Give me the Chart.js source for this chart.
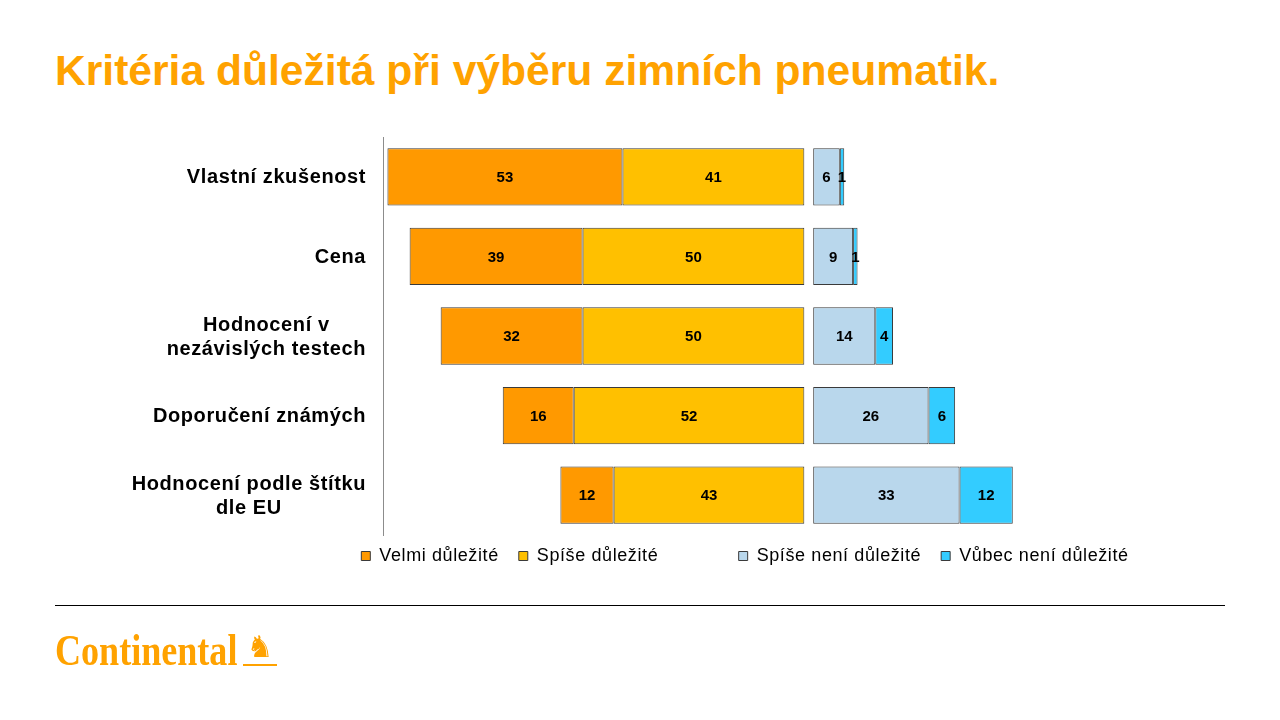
<!DOCTYPE html>
<html>
<head>
<meta charset="utf-8">
<script src="https://cdn.jsdelivr.net/npm/chart.js@4.4.0/dist/chart.umd.min.js"></script>
<style>
  body { margin: 0; background: #fff; font-family: "Liberation Sans", Arial, sans-serif; }
  .page { position: relative; width: 1280px; height: 720px; overflow: hidden; }
  .title { position: absolute; left: 55px; top: 49px; font-size: 42.6px; line-height: 1; font-weight: bold; color: #FFA200; white-space: nowrap; }
  .chart_box { position: absolute; left: 0; top: 0; width: 1280px; height: 720px; }
  .rule { position: absolute; left: 55px; top: 605px; width: 1170px; height: 1px; background: #000; }
  .logo { position: absolute; left: 55px; top: 628px; height: 46px; color: #FFA200; white-space: nowrap; }
  .logo .word { display: inline-block; font-family: "Liberation Serif", serif; font-weight: bold; font-size: 44px; line-height: 46px; transform: scaleX(0.82); transform-origin: left center; }
  .logo .horse { position: absolute; left: 188px; top: 2px; width: 34px; font-family: "DejaVu Sans", sans-serif; font-size: 30px; line-height: 34px; text-align: center; border-bottom: 2px solid #FFA200; }
</style>
</head>
<body>
<div class="page">
  <div class="title">Kritéria důležitá při výběru zimních pneumatik.</div>
  <div class="chart_box"><canvas id="myChart"></canvas></div>
  <div class="rule"></div>
  <div class="logo"><span class="word">Continental</span><span class="horse">♞</span></div>
</div>
<script>
// data
var categories = [
  "Vlastní zkušenost",
  "Cena",
  ["Hodnocení v", "nezávislých testech"],
  "Doporučení známých",
  ["Hodnocení podle štítku", "dle EU"]
];
var velmiDulezite = [53, 39, 32, 16, 12];
var spiseDulezite = [41, 50, 50, 52, 43];
var spiseNeniDulezite = [6, 9, 14, 26, 33];
var vubecNeniDulezite = [1, 1, 4, 6, 12];

// where the "important" side ends and how wide the gap is (scale units)
var leftEnd = 95;
var gapWidth = 2;

var pad = velmiDulezite.map(function (v, i) { return leftEnd - v - spiseDulezite[i]; });
var gap = categories.map(function () { return gapWidth; });

// slide text is a bit wider than plain Arial, legend gets some spacing
var spacing = {
  id: 'spacing',
  beforeUpdate: function (chart) { chart.ctx.letterSpacing = '0.6px'; },
  beforeDraw: function (chart) { chart.ctx.letterSpacing = '0.6px'; },
  afterLayout: function (chart) {
    // pull legend a little closer to the bars
    chart.legend.top -= 8;
    chart.legend.bottom -= 8;
  }
};

// numbers in the middle of each segment
var valueLabels = {
  id: 'valueLabels',
  afterDatasetsDraw: function (chart) {
    var ctx = chart.ctx;
    ctx.save();
    ctx.letterSpacing = '0px';
    ctx.font = 'bold 15px "Liberation Sans", Arial, sans-serif';
    ctx.fillStyle = '#000';
    ctx.textAlign = 'center';
    ctx.textBaseline = 'middle';
    chart.data.datasets.forEach(function (ds, di) {
      if (!ds.showValue) return;
      chart.getDatasetMeta(di).data.forEach(function (el, i) {
        ctx.fillText(ds.data[i], (el.x + el.base) / 2, el.y + 1);
      });
    });
    ctx.restore();
  }
};

// category names: block right aligned, lines centred inside the block
var categoryLabels = {
  id: 'categoryLabels',
  afterDraw: function (chart) {
    var ctx = chart.ctx;
    var y = chart.scales.y;
    ctx.save();
    ctx.letterSpacing = '0.6px';
    ctx.font = 'bold 20px "Liberation Sans", Arial, sans-serif';
    ctx.fillStyle = '#000';
    ctx.textAlign = 'center';
    ctx.textBaseline = 'middle';
    categories.forEach(function (c, i) {
      var lines = Array.isArray(c) ? c : [c];
      var w = Math.max.apply(null, lines.map(function (l) { return ctx.measureText(l).width; }));
      var cx = 366 - w / 2;
      var cy = y.getPixelForValue(i);
      lines.forEach(function (l, j) {
        ctx.fillText(l, cx, cy + (j - (lines.length - 1) / 2) * 24 + 1);
      });
    });
    ctx.restore();
  }
};

var border = '#3a3a3a';
var ctx = document.getElementById('myChart').getContext('2d');
var myChart = new Chart(ctx, {
  type: 'bar',
  data: {
    labels: categories,
    datasets: [{
      label: 'pad',
      data: pad,
      backgroundColor: 'rgba(0,0,0,0)',
      borderWidth: 0
    }, {
      label: 'Velmi důležité',
      data: velmiDulezite,
      backgroundColor: '#FF9900',
      borderColor: border,
      borderWidth: 1,
      showValue: true
    }, {
      label: 'Spíše důležité',
      data: spiseDulezite,
      backgroundColor: '#FFC000',
      borderColor: border,
      borderWidth: 1,
      showValue: true
    }, {
      label: '    ',
      data: gap,
      backgroundColor: 'rgba(0,0,0,0)',
      borderColor: 'rgba(0,0,0,0)',
      borderWidth: 0
    }, {
      label: 'Spíše není důležité',
      data: spiseNeniDulezite,
      backgroundColor: '#B9D7EC',
      borderColor: border,
      borderWidth: 1,
      showValue: true
    }, {
      label: 'Vůbec není důležité',
      data: vubecNeniDulezite,
      backgroundColor: '#33CCFF',
      borderColor: border,
      borderWidth: 1,
      showValue: true
    }]
  },
  options: {
    indexAxis: 'y',
    responsive: true,
    maintainAspectRatio: false,
    animation: false,
    barPercentage: 0.72,
    categoryPercentage: 1,
    borderSkipped: false,
    layout: { padding: { left: 220, right: 10, top: 137, bottom: 137 } },
    scales: {
      x: { stacked: true, display: false, min: 0, max: 200 },
      y: {
        stacked: true,
        grid: { display: false },
        border: { display: true, color: '#8c8c8c', width: 1 },
        ticks: { display: false },
        afterFit: function (scale) { scale.width = 163; }
      }
    },
    plugins: {
      tooltip: { enabled: false },
      legend: {
        position: 'bottom',
        labels: {
          filter: function (item) { return item.datasetIndex !== 0; },
          boxWidth: 9,
          boxHeight: 9,
          padding: 20,
          color: '#000',
          font: { family: '"Liberation Sans", Arial, sans-serif', size: 18 }
        }
      }
    }
  },
  plugins: [spacing, valueLabels, categoryLabels]
});
</script>
</body>
</html>
